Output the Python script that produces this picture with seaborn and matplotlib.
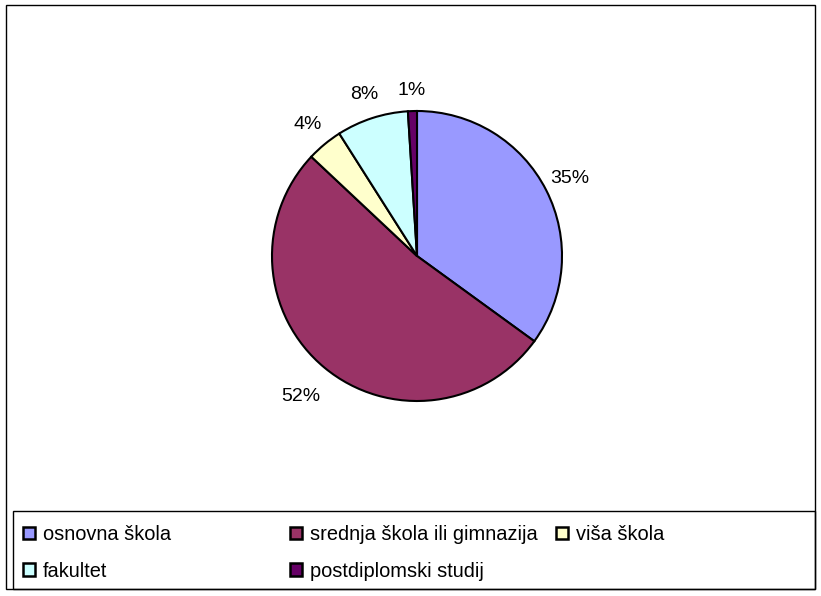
import matplotlib
matplotlib.use("Agg")
import matplotlib.pyplot as plt
from matplotlib.patches import Rectangle, Patch
import seaborn as sns

# ---- data ----
categories = ["osnovna škola", "srednja škola ili gimnazija", "viša škola",
              "fakultet", "postdiplomski studij"]
values = [35, 52, 4, 8, 1]
pct_labels = ["35%", "52%", "4%", "8%", "1%"]
colors = ["#9999FF", "#993366", "#FFFFCC", "#CCFFFF", "#660066"]

# ---- style ----
sns.set_theme(style="white")
plt.rcParams["font.family"] = ["Liberation Sans", "DejaVu Sans"]
plt.rcParams["text.color"] = "black"
palette = sns.color_palette(colors)

W, H = 821, 596
fig = plt.figure(figsize=(W / 100, H / 100), dpi=100)
fig.patch.set_facecolor("white")

def fx(px):
    return px / W

def fy(py):
    return 1 - py / H

# outer frame
fig.patches.append(Rectangle((fx(6), fy(589)), fx(815) - fx(6), fy(5) - fy(589),
                             transform=fig.transFigure, fill=False,
                             edgecolor="black", linewidth=1.0, zorder=0))

# pie axes: center (417,256), radius 145 px
cx, cy, r = 417, 256, 145
ax = fig.add_axes([fx(cx - r), fy(cy + r), (2 * r) / W, (2 * r) / H])
wedges, texts = ax.pie(values, labels=pct_labels, colors=palette,
                       startangle=90, counterclock=False,
                       labeldistance=1.0,
                       wedgeprops=dict(edgecolor="black", linewidth=1.5),
                       textprops=dict(fontsize=14, color="black"))
ax.set_xlim(-1, 1)
ax.set_ylim(-1, 1)
ax.set_aspect("equal")
ax.axis("off")
for w in wedges:
    w.set_clip_on(False)

label_dist = [1.18, 1.255, 1.18, 1.17, 1.14]
for t, k in zip(texts, label_dist):
    x, y = t.get_position()
    t.set_position((x * k, y * k))
    t.set_ha("center")
    t.set_va("center")

# legend box
fig.patches.append(Rectangle((fx(13), fy(589)), fx(815) - fx(13), fy(511) - fy(589),
                             transform=fig.transFigure, fill=False,
                             edgecolor="black", linewidth=1.0, zorder=1))

handles = [Patch(facecolor=c, edgecolor="black", linewidth=1.8) for c in palette]
columns = [[0, 3], [1, 4], [2]]
col_x = [23, 290, 556]
for idx, xpx in zip(columns, col_x):
    leg = fig.legend([handles[i] for i in idx], [categories[i] for i in idx],
                     loc="upper left", bbox_to_anchor=(fx(xpx), fy(525)),
                     bbox_transform=fig.transFigure, frameon=False,
                     fontsize=14.4, handlelength=0.6, handleheight=0.6,
                     handletextpad=0.4, labelspacing=0.88, borderpad=0,
                     borderaxespad=0, labelcolor="black")

fig.savefig("out.png", dpi=100, facecolor="white")
